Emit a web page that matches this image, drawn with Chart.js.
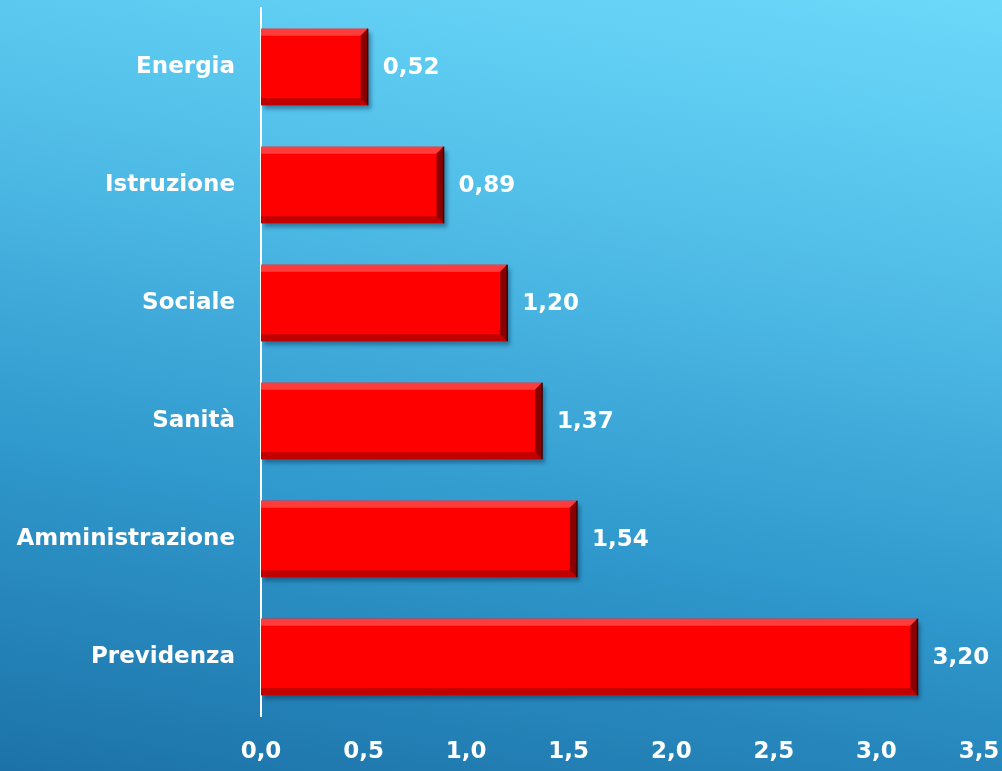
<!DOCTYPE html>
<html>
<head>
<meta charset="utf-8">
<script src="https://cdn.jsdelivr.net/npm/chart.js@4"></script>
<style>
    html, body {
        margin: 0;
        padding: 0;
        width: 1002px;
        height: 771px;
        overflow: hidden;
    }
    body {
        background: linear-gradient(190deg, #6cd9fa 0%, #52bfe9 30%, #3099cd 65%, #1c72a8 100%);
    }
    #wrap {
        width: 1002px;
        height: 771px;
    }
</style>
</head>
<body>
<div id="wrap"><canvas id="spendingChart"></canvas></div>
<script>
// Chart data
const categories = ['Energia', 'Istruzione', 'Sociale', 'Sanità', 'Amministrazione', 'Previdenza'];
const values = [0.52, 0.89, 1.20, 1.37, 1.54, 3.20];
const xTicks = [0, 0.5, 1.0, 1.5, 2.0, 2.5, 3.0, 3.5];

const fontFamily = "'DejaVu Sans', Lato, sans-serif";

function itNumber(v, digits) {
    return v.toFixed(digits).replace('.', ',');
}

// Drop shadow under bars
const barShadow = {
    id: 'barShadow',
    beforeDatasetsDraw: function(chart) {
        const ctx = chart.ctx;
        ctx.save();
        ctx.shadowColor = 'rgba(0, 30, 60, 0.4)';
        ctx.shadowBlur = 4;
        ctx.shadowOffsetX = 3;
        ctx.shadowOffsetY = 4;
    },
    afterDatasetsDraw: function(chart) {
        chart.ctx.restore();
    }
};

// Bevel edges and value labels
const bevelAndLabels = {
    id: 'bevelAndLabels',
    afterDatasetsDraw: function(chart) {
        const ctx = chart.ctx;
        const meta = chart.getDatasetMeta(0);
        ctx.save();
        ctx.shadowColor = 'transparent';
        meta.data.forEach((bar, i) => {
            const left = bar.base;
            const right = bar.x;
            const top = bar.y - bar.height / 2;
            const bottom = bar.y + bar.height / 2;
            const b = 7;

            // top highlight
            ctx.fillStyle = '#ff3c3c';
            ctx.beginPath();
            ctx.moveTo(left, top);
            ctx.lineTo(right, top);
            ctx.lineTo(right - b, top + b);
            ctx.lineTo(left, top + b);
            ctx.closePath();
            ctx.fill();

            // bottom shade
            ctx.fillStyle = '#c00000';
            ctx.beginPath();
            ctx.moveTo(left, bottom);
            ctx.lineTo(right, bottom);
            ctx.lineTo(right - b, bottom - b);
            ctx.lineTo(left, bottom - b);
            ctx.closePath();
            ctx.fill();

            // right shade
            ctx.fillStyle = '#8a0000';
            ctx.beginPath();
            ctx.moveTo(right, top);
            ctx.lineTo(right, bottom);
            ctx.lineTo(right - b, bottom - b);
            ctx.lineTo(right - b, top + b);
            ctx.closePath();
            ctx.fill();

            // dark outline on right edge
            ctx.strokeStyle = '#3a0000';
            ctx.lineWidth = 1.5;
            ctx.beginPath();
            ctx.moveTo(right, top);
            ctx.lineTo(right, bottom);
            ctx.stroke();

            // value label
            ctx.fillStyle = '#ffffff';
            ctx.font = 'bold 23px ' + fontFamily;
            ctx.textAlign = 'left';
            ctx.textBaseline = 'middle';
            ctx.fillText(itNumber(values[i], 2), right + 15, bar.y + 1);
        });
        ctx.restore();
    }
};

const chart = new Chart(document.getElementById('spendingChart'), {
    type: 'bar',
    data: {
        labels: categories,
        datasets: [{
            data: values,
            backgroundColor: '#ff0000',
            borderWidth: 0,
            barPercentage: 0.65,
            categoryPercentage: 1.0
        }]
    },
    options: {
        indexAxis: 'y',
        responsive: true,
        maintainAspectRatio: false,
        animation: false,
        layout: {
            padding: { top: 8, right: 23, left: 0, bottom: 0 }
        },
        plugins: {
            legend: { display: false },
            tooltip: { enabled: false }
        },
        scales: {
            x: {
                min: 0,
                max: 3.5,
                afterFit: function(scale) {
                    scale.height = 55;
                    scale.paddingLeft = 0;
                    scale.paddingRight = 0;
                },
                afterBuildTicks: function(scale) {
                    scale.ticks = xTicks.map(v => ({ value: v }));
                },
                grid: { display: false, drawTicks: false },
                border: { display: false },
                ticks: {
                    color: '#ffffff',
                    padding: 22,
                    font: { family: fontFamily, size: 23, weight: 'bold' },
                    callback: function(value) { return itNumber(value, 1); }
                }
            },
            y: {
                afterFit: function(scale) {
                    scale.width = 261;
                    scale.paddingTop = 0;
                    scale.paddingBottom = 0;
                },
                grid: { display: false, drawTicks: false },
                border: { display: true, color: '#ffffff', width: 2 },
                ticks: {
                    color: '#ffffff',
                    padding: 26,
                    font: { family: fontFamily, size: 23, weight: 'bold' }
                }
            }
        }
    },
    plugins: [barShadow, bevelAndLabels]
});
</script>
</body>
</html>
